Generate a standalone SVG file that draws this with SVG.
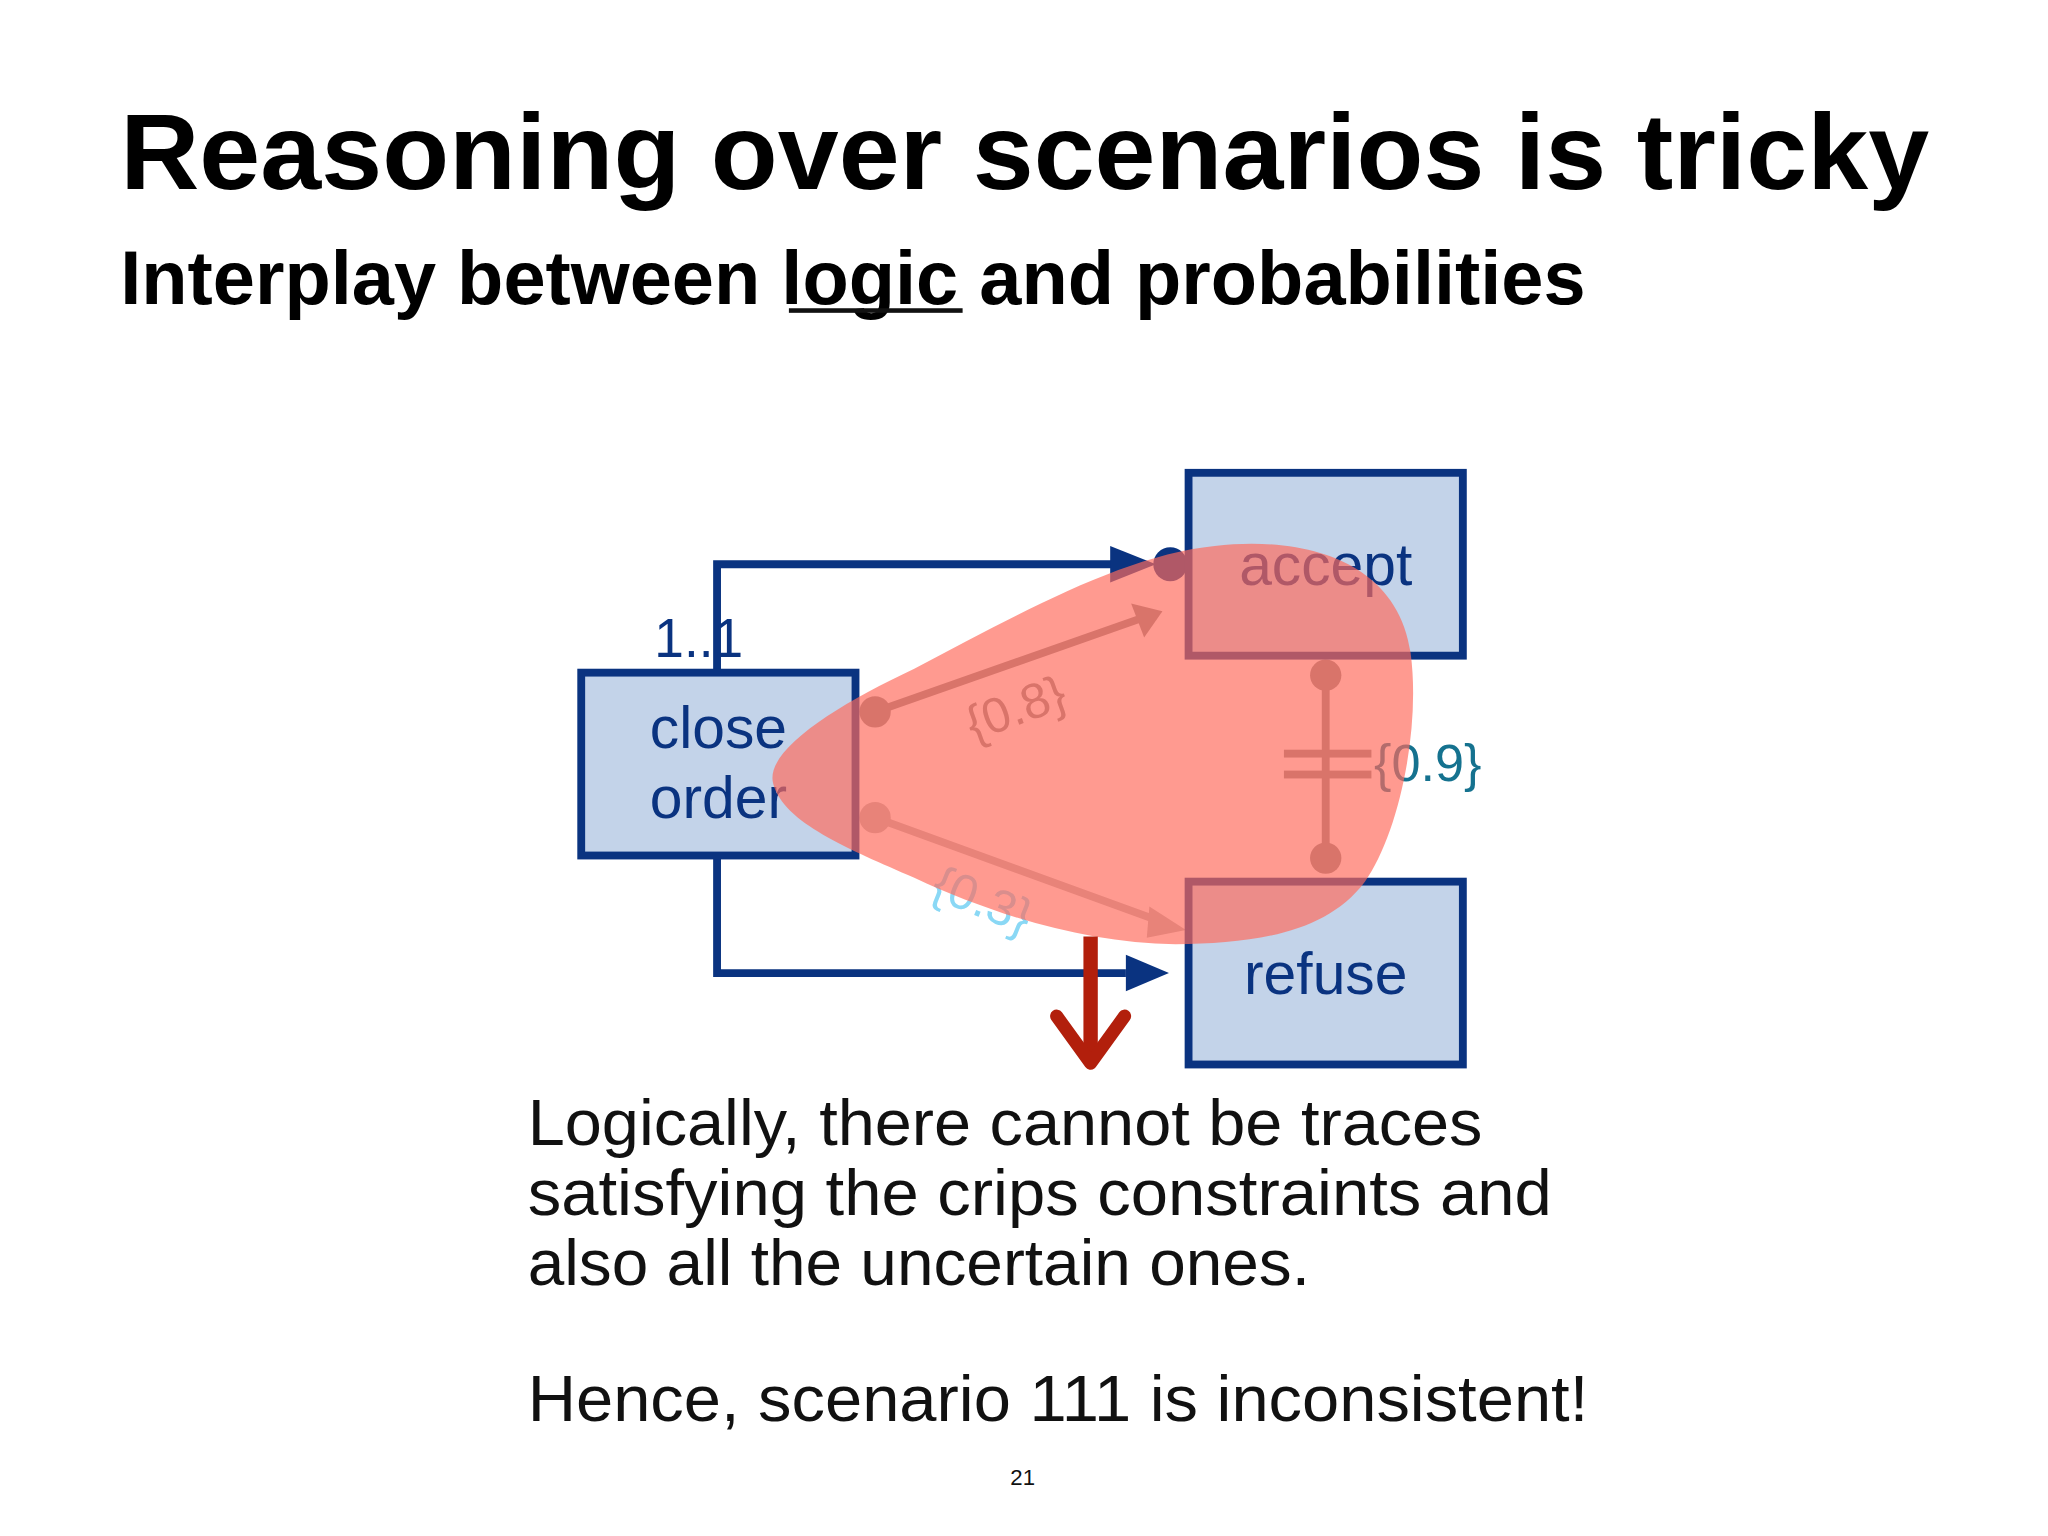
<svg xmlns="http://www.w3.org/2000/svg" width="2048" height="1536" viewBox="0 0 2048 1536">
<style>
text{font-family:"Liberation Sans",Arial,sans-serif}
.box{fill:#c3d3e9;stroke:#0a3380;stroke-width:6}
.lbl{fill:#0a3380;font-size:45px;text-anchor:middle}
.con{fill:none;stroke:#0a3380;stroke-width:6}
.body{font-size:49px;fill:#111}
</style>
<rect width="2048" height="1536" fill="#fff"/>
<g transform="scale(1.30612)">
<text x="92" y="145" font-size="83" font-weight="bold" textLength="1385" lengthAdjust="spacingAndGlyphs">Reasoning over scenarios is tricky</text>
<text x="92" y="233" font-size="58" font-weight="bold" textLength="1122" lengthAdjust="spacingAndGlyphs">Interplay between logic and probabilities</text>
<rect x="604" y="236" width="133" height="3.5" fill="#111"/>

<g id="connectors">
<path class="con" d="M549 515 V432 H852"/>
<polygon points="850,418 885,432 850,446" fill="#0a3380"/>
<circle cx="896" cy="432" r="13" fill="#0a3380"/>
<path class="con" d="M549 655 V745 H862"/>
<polygon points="862,731 895,745 862,759" fill="#0a3380"/>
<line x1="670" y1="545" x2="872" y2="474" stroke="#8a8a8a" stroke-width="6"/>
<polygon points="866,462 890,468 876,488" fill="#8a8a8a"/>
<circle cx="670" cy="545" r="12" fill="#8a8a8a"/>
<line x1="670" y1="626" x2="890" y2="706" stroke="#b8b8b8" stroke-width="6"/>
<polygon points="880,694 908,712 878,718" fill="#b8b8b8"/>
<circle cx="670" cy="626" r="12" fill="#b8b8b8"/>
<line x1="1015" y1="517" x2="1015" y2="657" stroke="#8a8a8a" stroke-width="6"/>
<circle cx="1015" cy="517" r="12" fill="#8a8a8a"/>
<circle cx="1015" cy="657" r="12" fill="#8a8a8a"/>
<rect x="983" y="574" width="67" height="6" fill="#8a8a8a"/>
<rect x="983" y="590" width="67" height="6" fill="#8a8a8a"/>
<text x="778" y="555" font-size="38" fill="#8a8a8a" text-anchor="middle" transform="rotate(-20 778 543)">{0.8}</text>
<text x="752" y="702" font-size="38" fill="#8ad8f5" text-anchor="middle" transform="rotate(22 752 690)">{0.3}</text>
<text x="1052" y="598" font-size="40" fill="#15728f">{0.9}</text>
<text x="501" y="503" font-size="42" fill="#0a3380" textLength="68" lengthAdjust="spacingAndGlyphs">1..1</text>
</g>

<g id="close-order"><rect class="box" x="445" y="515" width="210" height="140"/>
<text class="lbl" x="550" y="573">close</text><text class="lbl" x="550" y="626">order</text></g>
<g id="accept"><rect class="box" x="910" y="362" width="210" height="140"/>
<text class="lbl" x="1015" y="448">accept</text></g>
<g id="refuse"><rect class="box" x="910" y="675" width="210" height="140"/>
<text class="lbl" x="1015" y="761">refuse</text></g>

<path id="blob" d="M592 600 C585 575 640 540 700 512 C780 470 860 425 930 418 C1000 410 1070 430 1080 500 C1088 560 1070 640 1045 675 C1015 715 960 722 900 723 C830 722 760 700 700 672 C650 650 600 630 592 600 Z" fill="#ff6a5c" fill-opacity="0.68"/>

<g id="red-arrow">
<line x1="835" y1="717" x2="835" y2="810" stroke="#b21f0c" stroke-width="11"/>
<polyline points="809,778 835,814 861,778" fill="none" stroke="#b21f0c" stroke-width="10" stroke-linecap="round" stroke-linejoin="round"/>
</g>

<text class="body" x="404" y="877" textLength="731" lengthAdjust="spacingAndGlyphs">Logically, there cannot be traces</text>
<text class="body" x="404" y="930" textLength="784" lengthAdjust="spacingAndGlyphs">satisfying the crips constraints and</text>
<text class="body" x="404" y="984" textLength="599" lengthAdjust="spacingAndGlyphs">also all the uncertain ones.</text>
<text class="body" x="404" y="1088" textLength="812" lengthAdjust="spacingAndGlyphs">Hence, scenario 111 is inconsistent!</text>
<text x="783" y="1137" font-size="17" fill="#111" text-anchor="middle">21</text>
</g>
</svg>
